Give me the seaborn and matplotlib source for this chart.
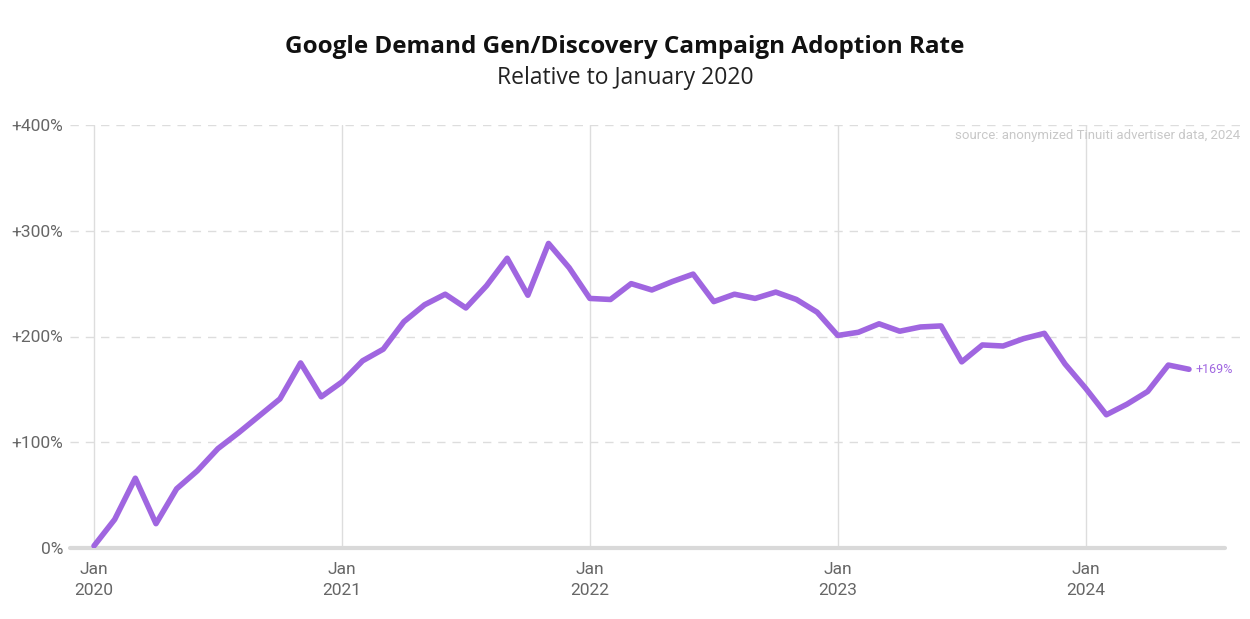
import pandas as pd
import matplotlib.pyplot as plt
import seaborn as sns

# Monthly adoption rate relative to Jan 2020 (%), Jan 2020 - Jun 2024
months = pd.date_range('2020-01-01', '2024-06-01', freq='MS')
values = [2, 27, 66, 23, 56, 73, 94, 109, 125, 141, 175, 143,
          157, 177, 188, 214, 230, 240, 227, 248, 274, 239, 288, 265,
          236, 235, 250, 244, 252, 259, 233, 240, 236, 242, 235, 223,
          201, 204, 212, 205, 209, 210, 176, 192, 191, 198, 203, 174,
          151, 126, 136, 148, 173, 169]
tick_pos = [0, 12, 24, 36, 48]
tick_labels = ['Jan\n2020', 'Jan\n2021', 'Jan\n2022', 'Jan\n2023', 'Jan\n2024']
y_ticks = [0, 100, 200, 300, 400]
y_labels = ['0%', '+100%', '+200%', '+300%', '+400%']

df = pd.DataFrame({'month': months, 'value': values})
df['idx'] = range(len(df))

sns.set_style('white')
plt.rcParams['font.family'] = ['Roboto', 'DejaVu Sans']

purple = '#a066e0'

fig = plt.figure(figsize=(12.5, 6.19), dpi=100)
ax = fig.add_axes([70 / 1250, 1 - 548 / 619, 1170 / 1250, 423 / 619])

sns.lineplot(data=df, x='idx', y='value', color=purple, linewidth=4, ax=ax)

x0 = -24 / 20.66
ax.set_xlim(x0, 1146 / 20.66)
ax.set_ylim(0, 400)

# grid
for yv in y_ticks[1:]:
    ax.axhline(yv, color='#dddddd', linestyle=(0, (6, 5)), linewidth=1, zorder=0)
for xv in tick_pos:
    ax.axvline(xv, color='#dddddd', linewidth=1, zorder=0)
ax.plot([x0, 1131 / 20.66], [0, 0], color='#d9d9d9', linewidth=3,
        zorder=1, clip_on=False)

for s in ax.spines.values():
    s.set_visible(False)

ax.set_xticks(tick_pos)
ax.set_xticklabels(tick_labels, fontsize=12.5, color='#666666', linespacing=1.5)
ax.set_yticks(y_ticks)
ax.set_yticklabels(y_labels, fontsize=12.5, color='#666666')
ax.tick_params(length=0, pad=5)
ax.tick_params(axis='x', pad=10)
ax.set_xlabel('')
ax.set_ylabel('')

ax.text(df['idx'].iloc[-1] + 0.3, values[-1], '+169%', color=purple,
        fontsize=9, va='center', ha='left')
ax.text(1, 0.99, 'source: anonymized Tinuiti advertiser data, 2024',
        transform=ax.transAxes, ha='right', va='top', fontsize=9.5, color='#c8c8c8')

fig.text(0.5, 1 - 47 / 619, 'Google Demand Gen/Discovery Campaign Adoption Rate',
         ha='center', va='center', fontsize=17.5, fontweight='bold', color='#111111',
         family=['Open Sans', 'DejaVu Sans'])
fig.text(0.5, 1 - 78 / 619, 'Relative to January 2020',
         ha='center', va='center', fontsize=16.5, color='#222222',
         family=['Open Sans', 'DejaVu Sans'])

fig.savefig('out.png', dpi=100)
